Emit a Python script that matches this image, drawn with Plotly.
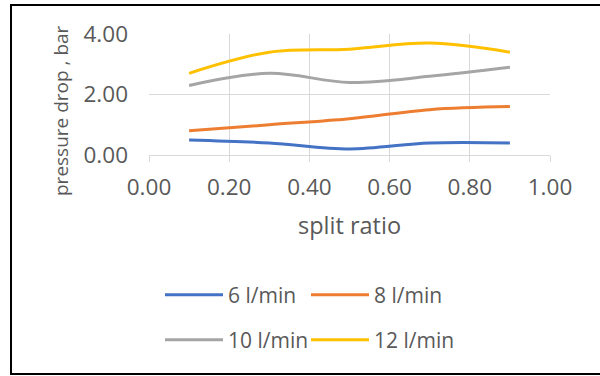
import plotly.graph_objects as go

split_ratio = [0.1, 0.3, 0.5, 0.7, 0.9]
dp_6 = [0.50, 0.40, 0.20, 0.40, 0.40]
dp_8 = [0.80, 1.00, 1.20, 1.50, 1.60]
dp_10 = [2.30, 2.70, 2.40, 2.60, 2.90]
dp_12 = [2.70, 3.40, 3.50, 3.70, 3.40]
series_names = ["6 l/min", "8 l/min", "10 l/min", "12 l/min"]
colors = ["#4472C4", "#ED7D31", "#A5A5A5", "#FFC000"]
x_ticks = [0.0, 0.2, 0.4, 0.6, 0.8, 1.0]
y_ticks = [0.0, 2.0, 4.0]

FONT = "Open Sans"
TXT = "#595959"

W, H = 600, 376
L, R, T, B = 149, 550, 34, 155  # plot area pixels
pw, ph = R - L, B - T

def px_x(p):
    return (p - L) / pw

def px_y(p):
    return (B - p) / ph

legend_ids = ["legend", "legend2", "legend3", "legend4"]
legend_px = [(160, 295), (306, 295), (160, 340), (306, 340)]

fig = go.Figure()
data = [dp_6, dp_8, dp_10, dp_12]
for name, ys, c, lg in zip(series_names, data, colors, legend_ids):
    fig.add_trace(go.Scatter(
        x=split_ratio, y=ys, name=name, mode="lines",
        line=dict(color=c, width=3, shape="spline", smoothing=1),
        legend=lg,
    ))

legend_common = dict(
    orientation="h", xanchor="left", yanchor="middle",
    font=dict(family=FONT, size=21, color=TXT),
    bgcolor="rgba(0,0,0,0)", borderwidth=0, itemwidth=58,
)

legend_layout = {
    lg: dict(x=px_x(px), y=px_y(py), **legend_common)
    for lg, (px, py) in zip(legend_ids, legend_px)
}

fig.update_layout(
    width=W, height=H,
    margin=dict(l=L, r=W - R, t=T, b=H - B, pad=0),
    paper_bgcolor="white", plot_bgcolor="white",
    font=dict(family=FONT, color=TXT),
    showlegend=True,
    **legend_layout,
    xaxis=dict(
        range=[0, 1], tickvals=x_ticks, ticktext=[f"{v:.2f}" for v in x_ticks],
        showgrid=True, gridcolor="#D9D9D9", gridwidth=1,
        showline=False, zeroline=False,
        ticks="outside", ticklen=6, tickcolor="#D9D9D9",
        tickfont=dict(family=FONT, size=22.5, color=TXT),
        ticklabelstandoff=6,
    ),
    yaxis=dict(
        range=[0, 4], tickvals=y_ticks, ticktext=[f"{v:.2f}" for v in y_ticks],
        showgrid=True, gridcolor="#D9D9D9", gridwidth=1,
        showline=False, zeroline=True, zerolinecolor="#D9D9D9", zerolinewidth=1,
        ticks="", tickfont=dict(family=FONT, size=22.5, color=TXT),
        ticklabelstandoff=20,
    ),
    annotations=[
        dict(text="split ratio", xref="paper", yref="paper", x=0.5, y=px_y(225),
             xanchor="center", yanchor="middle", showarrow=False,
             font=dict(family=FONT, size=23.5, color=TXT)),
        dict(text="pressure drop , bar", xref="paper", yref="paper", x=px_x(61), y=px_y(111),
             xanchor="center", yanchor="middle", showarrow=False, textangle=-90,
             font=dict(family=FONT, size=19, color=TXT)),
    ],
    shapes=[
        dict(type="rect", xref="paper", yref="paper", x0=px_x(11), x1=px_x(601),
             y0=px_y(374), y1=px_y(5), line=dict(color="black", width=2), layer="below"),
    ],
)

fig.write_html("out.html")
